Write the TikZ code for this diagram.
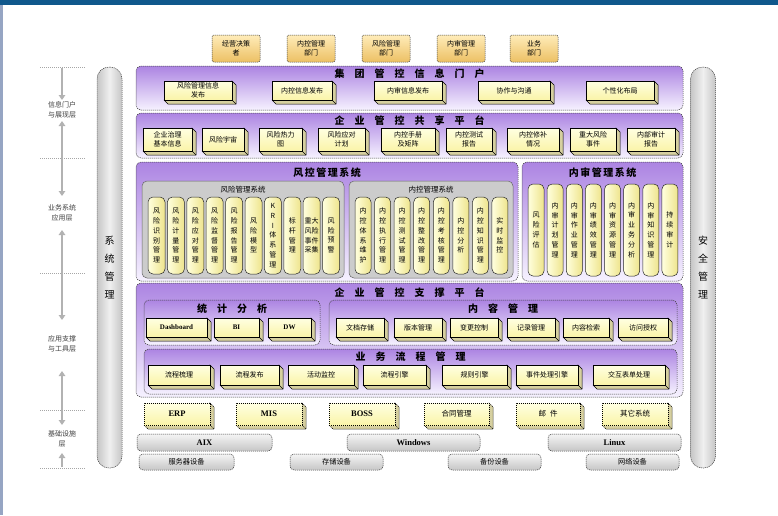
\documentclass[tikz,border=0pt]{standalone}
\usepackage{fontspec}
\setmainfont{Liberation Serif}
\newfontfamily\cjk{Noto Sans CJK SC}
\usetikzlibrary{arrows.meta}
\definecolor{topblue}{RGB}{16,88,140}
\definecolor{leftstrip}{RGB}{150,165,195}
\definecolor{pTop}{RGB}{172,132,226}
\definecolor{pBot}{RGB}{246,242,255}
\definecolor{yF1}{RGB}{255,255,226}
\definecolor{yF2}{RGB}{250,244,168}
\definecolor{ySide}{RGB}{214,208,160}
\definecolor{yC1}{RGB}{255,255,222}
\definecolor{yC2}{RGB}{238,228,140}
\definecolor{gPanel}{RGB}{204,204,204}
\definecolor{oTop}{RGB}{255,236,185}
\definecolor{oBot}{RGB}{236,192,100}
\newcommand\kk{\hspace{10pt}}
\newcommand\tdbox[7][]{%
  \path[side,#1] ({#5-4},#4) -- (#5,{#4+4}) -- (#5,#6) -- ({#3+4},#6) -- (#3,{#6-4}) -- cycle;
  \draw[sideedge,#1] ({#5-4},{#6-4}) -- (#5,#6);
  \node[front,#1,minimum width={#5-#3-4},minimum height={#6-#4-4}] (#2) at ({(#3+#5-4)/2},{(#4+#6-4)/2}) {#7};%
}
\tikzset{
  dashedge/.style={draw=black!75, dash pattern=on 1.2pt off 0.8pt, line width=0.5pt},
  ppanel/.style={dashedge, rounded corners=5pt, top color=pTop, bottom color=pBot, inner sep=0pt},
  ptitle/.style={font=\cjk\bfseries\fontsize{10}{11}\selectfont, inner sep=0pt},
  stitle/.style={font=\cjk\fontsize{7.5}{8.5}\selectfont, inner sep=0pt},
  front/.style={draw=black, line width=0.5pt, top color=yF1, bottom color=yF2, inner sep=0pt, align=center, font=\cjk\fontsize{7}{8.4}\selectfont},
  side/.style={fill=ySide, draw=black, line width=0.5pt, line join=round},
  sideedge/.style={draw=black, line width=0.5pt},
  infra/.style={dash pattern=on 1.2pt off 0.8pt},
  colpill/.style={draw=black!85, line width=0.5pt, rounded corners=5pt, left color=yC1, right color=yC2, inner sep=0pt, align=center, font=\cjk\fontsize{7}{9.8}\selectfont},
  gpanel/.style={draw=black!60, line width=0.5pt, rounded corners=5pt, fill=gPanel, inner sep=0pt},
  dept/.style={dashedge, rounded corners=2pt, top color=oTop, bottom color=oBot, align=center, inner sep=0pt, font=\cjk\fontsize{7}{9}\selectfont},
  osbar/.style={dashedge, rounded corners=4pt, top color=gray!8, bottom color=gray!45, inner sep=0pt, font=\bfseries\fontsize{8.5}{9}\selectfont},
  devbar/.style={dashedge, rounded corners=4pt, top color=gray!8, bottom color=gray!45, inner sep=0pt, font=\cjk\fontsize{7.2}{8}\selectfont},
  sidebar/.style={draw=black!75, dash pattern=on 1.2pt off 0.8pt, line width=0.5pt, rounded corners=12pt, left color=gray!45, right color=gray!45, middle color=gray!12, align=center, inner sep=0pt, font=\cjk\fontsize{10}{18}\selectfont},
  layer/.style={font=\cjk\fontsize{7}{10.5}\selectfont, text=black!75, align=center, inner sep=0pt},
  larrow/.style={draw=gray!60, line width=2.2pt, -{Triangle[width=6.5pt,length=5pt]}},
  dlarrow/.style={draw=gray!60, line width=2.2pt, {Triangle[width=6.5pt,length=5pt]}-{Triangle[width=6.5pt,length=5pt]}},
  sepline/.style={draw=gray!70, dash pattern=on 1pt off 1pt, line width=0.8pt},
}
\begin{document}
\begin{tikzpicture}[x=1pt,y=-1pt]
\useasboundingbox (0,0) rectangle (778,515);
\fill[white] (0,0) rectangle (778,515);
\fill[topblue] (0,0) rectangle (778,5);
\fill[leftstrip] (0,5) rectangle (2.5,515);

% ---------- left layer column ----------
\foreach \yy in {67,158,273,410,468} \draw[sepline] (40,\yy) -- (86,\yy);
\coordinate (a1s) at (62,68);  \coordinate (a1e) at (62,100);
\coordinate (a2s) at (62,121); \coordinate (a2e) at (62,196);
\coordinate (a3s) at (62,230); \coordinate (a3e) at (62,320);
\coordinate (a4s) at (62,371); \coordinate (a4e) at (62,425);
\coordinate (a5s) at (62,467); \coordinate (a5e) at (62,453);
\draw[larrow] (a1s) -- (a1e);
\draw[dlarrow] (a2s) -- (a2e);
\draw[dlarrow] (a3s) -- (a3e);
\draw[dlarrow] (a4s) -- (a4e);
\draw[larrow] (a5s) -- (a5e);
\node[layer] (lay1) at (62,110) {信息门户\\与展现层};
\node[layer] (lay2) at (62,213) {业务系统\\应用层};
\node[layer] (lay3) at (62,344) {应用支撑\\与工具层};
\node[layer] (lay4) at (62,439) {基础设施\\层};

% ---------- side bars ----------
\node[sidebar, minimum width=25, minimum height=401] (sysm) at (109.5,267.5) {系\\统\\管\\理};
\node[sidebar, minimum width=25, minimum height=401] (secm) at (703,267.5) {安\\全\\管\\理};

% ---------- departments ----------
\foreach \colt/\cx [count=\i] in {{经营决策\\者}/236,{内控管理\\部门}/311,{风险管理\\部门}/386,{内审管理\\部门}/461,{业务\\部门}/534}
  \node[dept, minimum width=48, minimum height=27] (dep\i) at (\cx,48.5) {\colt};

% ---------- portal ----------
\node[ppanel, minimum width=547, minimum height=44] (portal) at (409.5,88) {};
\node[ptitle] (portalT) at (409.5,74) {集\kk{}团\kk{}管\kk{}控\kk{}信\kk{}息\kk{}门\kk{}户};
\tdbox{po1}{164}{81}{236}{104}{风险管理信息\\发布}
\tdbox{po2}{272}{81}{336}{104}{内控信息发布}
\tdbox{po3}{374}{81}{446}{104}{内审信息发布}
\tdbox{po4}{478}{81}{554}{104}{协作与沟通}
\tdbox{po5}{586}{81}{658}{104}{个性化布局}

% ---------- sharing platform ----------
\node[ppanel, minimum width=547, minimum height=45] (share) at (409.5,135.5) {};
\node[ptitle] (shareT) at (409.5,121) {企\kk{}业\kk{}管\kk{}控\kk{}共\kk{}享\kk{}平\kk{}台};
\tdbox{sh1}{143}{128}{196}{155}{企业治理\\基本信息}
\tdbox{sh2}{202}{128}{248}{155}{风险宇宙}
\tdbox{sh3}{259}{128}{306}{155}{风险热力\\图}
\tdbox{sh4}{318}{128}{369}{155}{风险应对\\计划}
\tdbox{sh5}{381}{128}{439}{155}{内控手册\\及矩阵}
\tdbox{sh6}{446}{128}{496}{155}{内控测试\\报告}
\tdbox{sh7}{507}{128}{563}{155}{内控修补\\情况}
\tdbox{sh8}{570}{128}{620}{155}{重大风险\\事件}
\tdbox{sh9}{627}{128}{679}{155}{内部审计\\报告}

% ---------- risk control system ----------
\node[ppanel, minimum width=382, minimum height=119] (rcs) at (327,221.5) {};
\node[ptitle, font=\cjk\bfseries\fontsize{10}{11}\selectfont] (rcsT) at (327,172.5) {风\hspace{1.5pt}控\hspace{1.5pt}管\hspace{1.5pt}理\hspace{1.5pt}系\hspace{1.5pt}统};
\node[gpanel, minimum width=202, minimum height=97] (rms) at (243,229.5) {};
\node[stitle] (rmsT) at (243,189.5) {风险管理系统};
\node[gpanel, minimum width=164, minimum height=97] (ics) at (431,229.5) {};
\node[stitle] (icsT) at (431,189.5) {内控管理系统};
\foreach \colt [count=\i] in {{风\\险\\识\\别\\管\\理},{风\\险\\计\\量\\管\\理},{风\\险\\应\\对\\管\\理},{风\\险\\监\\督\\管\\理},{风\\险\\报\\告\\管\\理},{风\\险\\模\\型},{K\\R\\I\\体\\系\\管\\理},{标\\杆\\管\\理},{重大\\风险\\事件\\采集},{风\\险\\预\\警}}
  \node[colpill, minimum width=17, minimum height=77] (rc\i) at ({156.5+(\i-1)*19.4},235.5) {\colt};
\foreach \colt [count=\i] in {{内\\控\\体\\系\\维\\护},{内\\控\\执\\行\\管\\理},{内\\控\\测\\试\\管\\理},{内\\控\\整\\改\\管\\理},{内\\控\\考\\核\\管\\理},{内\\控\\分\\析},{内\\控\\知\\识\\管\\理},{实\\时\\监\\控}}
  \node[colpill, minimum width=16, minimum height=77] (ic\i) at ({363+(\i-1)*19.57},235.5) {\colt};

% ---------- internal audit system ----------
\node[ppanel, minimum width=161, minimum height=119] (ias) at (602.5,221.5) {};
\node[ptitle, font=\cjk\bfseries\fontsize{10}{11}\selectfont] (iasT) at (602.5,172.5) {内\hspace{1.5pt}审\hspace{1.5pt}管\hspace{1.5pt}理\hspace{1.5pt}系\hspace{1.5pt}统};
\foreach \colt [count=\i] in {{风\\险\\评\\估},{内\\审\\计\\划\\管\\理},{内\\审\\作\\业\\管\\理},{内\\审\\绩\\效\\管\\理},{内\\审\\资\\源\\管\\理},{内\\审\\业\\务\\分\\析},{内\\审\\知\\识\\管\\理},{持\\续\\审\\计}}
  \node[colpill, minimum width=16, minimum height=92] (ac\i) at ({536+(\i-1)*19.14},230) {\colt};

% ---------- support platform ----------
\node[ppanel, minimum width=547, minimum height=114] (sup) at (409.5,340) {};
\node[ptitle] (supT) at (409.5,292.5) {企\kk{}业\kk{}管\kk{}控\kk{}支\kk{}撑\kk{}平\kk{}台};
\node[ppanel, minimum width=176, minimum height=45] (stat) at (232,322.5) {};
\node[ptitle] (statT) at (232,309) {统\kk{}计\kk{}分\kk{}析};
\node[ppanel, minimum width=348, minimum height=45] (cont) at (503,322.5) {};
\node[ptitle] (contT) at (503,309) {内\kk{}容\kk{}管\kk{}理};
\tdbox{st1}{146}{318}{211}{341}{{\rmfamily\bfseries Dashboard}}
\tdbox{st2}{214}{318}{263}{341}{{\rmfamily\bfseries BI}}
\tdbox{st3}{268}{318}{315}{341}{{\rmfamily\bfseries DW}}
\tdbox{ct1}{336}{318}{388}{341}{文档存储}
\tdbox{ct2}{394}{318}{446}{341}{版本管理}
\tdbox{ct3}{450}{318}{502}{341}{变更控制}
\tdbox{ct4}{507}{318}{559}{341}{记录管理}
\tdbox{ct5}{563}{318}{613}{341}{内容检索}
\tdbox{ct6}{618}{318}{672}{341}{访问授权}
\node[ppanel, minimum width=533, minimum height=45] (flow) at (410.5,371.5) {};
\node[ptitle] (flowT) at (410.5,356.5) {业\kk{}务\kk{}流\kk{}程\kk{}管\kk{}理};
\tdbox{fl1}{148}{365}{214}{389}{流程梳理}
\tdbox{fl2}{220}{365}{283}{389}{流程发布}
\tdbox{fl3}{288}{365}{358}{389}{活动监控}
\tdbox{fl4}{363}{365}{430}{389}{流程引擎}
\tdbox{fl5}{442}{365}{511}{389}{规则引擎}
\tdbox{fl6}{516}{365}{582}{389}{事件处理引擎}
\tdbox{fl7}{593}{365}{669}{389}{交互表单处理}

% ---------- infrastructure ----------
\tdbox[infra]{in1}{144}{403}{214}{429}{{\rmfamily\bfseries\fontsize{8.5}{9}\selectfont ERP}}
\tdbox[infra]{in2}{236}{403}{306}{429}{{\rmfamily\bfseries\fontsize{8.5}{9}\selectfont MIS}}
\tdbox[infra]{in3}{329}{403}{399}{429}{{\rmfamily\bfseries\fontsize{8.5}{9}\selectfont BOSS}}
\tdbox[infra]{in4}{424}{403}{493}{429}{{\fontsize{7.5}{8}\selectfont 合同管理}}
\tdbox[infra]{in5}{516}{403}{584}{429}{{\fontsize{7.5}{8}\selectfont 邮\hspace{4pt}件}}
\tdbox[infra]{in6}{602}{403}{672}{429}{{\fontsize{7.5}{8}\selectfont 其它系统}}
\node[osbar, minimum width=135, minimum height=17] (aix) at (204.5,442.5) {AIX};
\node[osbar, minimum width=133, minimum height=17] (win) at (413.5,442.5) {Windows};
\node[osbar, minimum width=133, minimum height=17] (lnx) at (614.5,442.5) {Linux};
\node[devbar, minimum width=95, minimum height=16] (dv1) at (186.5,462) {服务器设备};
\node[devbar, minimum width=93, minimum height=16] (dv2) at (336.5,462) {存储设备};
\node[devbar, minimum width=93, minimum height=16] (dv3) at (494.5,462) {备份设备};
\node[devbar, minimum width=93, minimum height=16] (dv4) at (632.5,462) {网络设备};
\end{tikzpicture}
\end{document}
